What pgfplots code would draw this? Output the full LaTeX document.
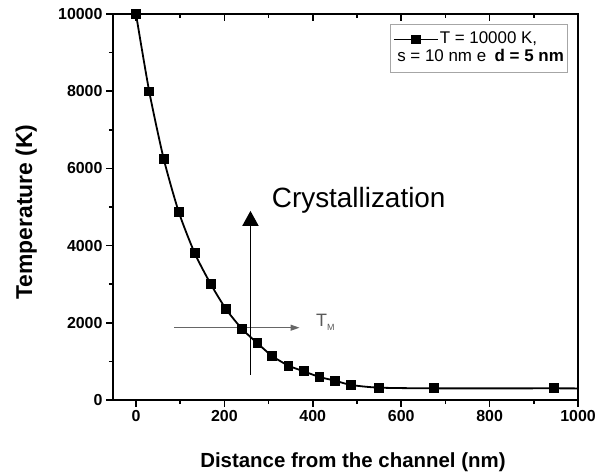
\documentclass[border=0pt]{standalone}
\usepackage{fontspec}
\setmainfont{Liberation Sans}
\usepackage{pgfplots}
\usepackage{pgfplotstable}
\pgfplotsset{compat=1.18}
\usetikzlibrary{arrows.meta}

% temperature profile
\pgfplotstableread{
x y
0 10000
30 7990
63 6235
97 4862
133 3800
169 3005
204 2349
240 1840
275 1468
308 1140
345 889
380 742
415 596
450 501
487 389
549 320
675 302
945 302
1000 300
}\tprofile

\pgfplotsset{
  common/.style={
    at={(0,0)}, anchor=south west, scale only axis,
    width=465bp, height=386bp,
    xmin=-52, xmax=1000, ymin=0, ymax=10000,
    major tick length=7bp, minor tick length=4bp,
    tick style={line width=1.5bp, black},
    axis line style={line width=2bp},
  },
}

\begin{document}
\begin{tikzpicture}
\useasboundingbox (-113bp,-76bp) rectangle (494bp,400bp);

% top ticks, pointing inward
\begin{axis}[common,
  axis x line*=top, axis y line=none,
  xtick={0,200,...,1000}, minor x tick num=1,
  xticklabels={}, tick align=inside,
]
\end{axis}

\begin{axis}[common,
  xtick pos=left, ytick pos=left, tick align=outside,
  xtick={0,200,...,1000}, minor x tick num=1,
  ytick={0,2000,...,10000}, minor y tick num=1,
  scaled y ticks=false,
  /pgf/number format/assume math mode=true,
  /pgf/number format/1000 sep={},
  ticklabel style={font=\fontsize{16}{16}\bfseries\selectfont},
  xlabel={Distance from the channel (nm)},
  ylabel={Temperature (K)},
  xlabel style={font=\fontsize{20.5}{22}\bfseries\selectfont,
    at={(axis description cs:0.516,-0.1736)}, anchor=base},
  ylabel style={font=\fontsize{23}{24}\bfseries\selectfont,
    at={(axis description cs:-0.174,0.487)}, anchor=base},
  clip=false,
  legend cell align=left,
  legend style={at={(0.978,0.974)}, anchor=north east,
    draw=gray!70, line width=0.8bp, fill=white,
    inner xsep=2.5bp, inner ysep=6bp,
    font=\fontsize{17}{18}\selectfont,
    nodes={inner xsep=1bp, inner ysep=1bp, text height=12bp, text depth=4bp}},
]
\addplot[black, line width=1.8bp, smooth, tension=0.4,
  mark=square*, mark size=4bp, mark indices={1,...,18},
  legend image code/.code={
    \draw[line width=1.8bp, mark indices={2}]
      plot coordinates {(0bp,0bp) (22bp,0bp) (44bp,0bp)};}]
  table {\tprofile};
\addlegendentry{T = 10000 K,}
\addlegendimage{empty legend}
\addlegendentry{\hspace*{-42.5bp}s = 10 nm e\enspace\textbf{d = 5 nm}}

% annotations
\draw[gray!80!black, line width=1bp, -{Triangle[width=6bp,length=9bp]}]
  (axis cs:87,1873) -- (axis cs:370,1873);
\node[anchor=base west, inner sep=0pt, text=gray!70!black,
  font=\fontsize{18}{18}\selectfont]
  at (axis cs:407,1900) {T\raisebox{-4bp}{\fontsize{9}{9}\selectfont M}};
\draw[black, line width=1.8bp, -{Triangle[width=16bp,length=15bp]}]
  (axis cs:259,648) -- (axis cs:259,4900);
\node[anchor=base west, inner sep=0pt, font=\fontsize{28}{28}\selectfont]
  at (axis cs:307,4987) {Crystallization};
\end{axis}
\end{tikzpicture}
\end{document}
